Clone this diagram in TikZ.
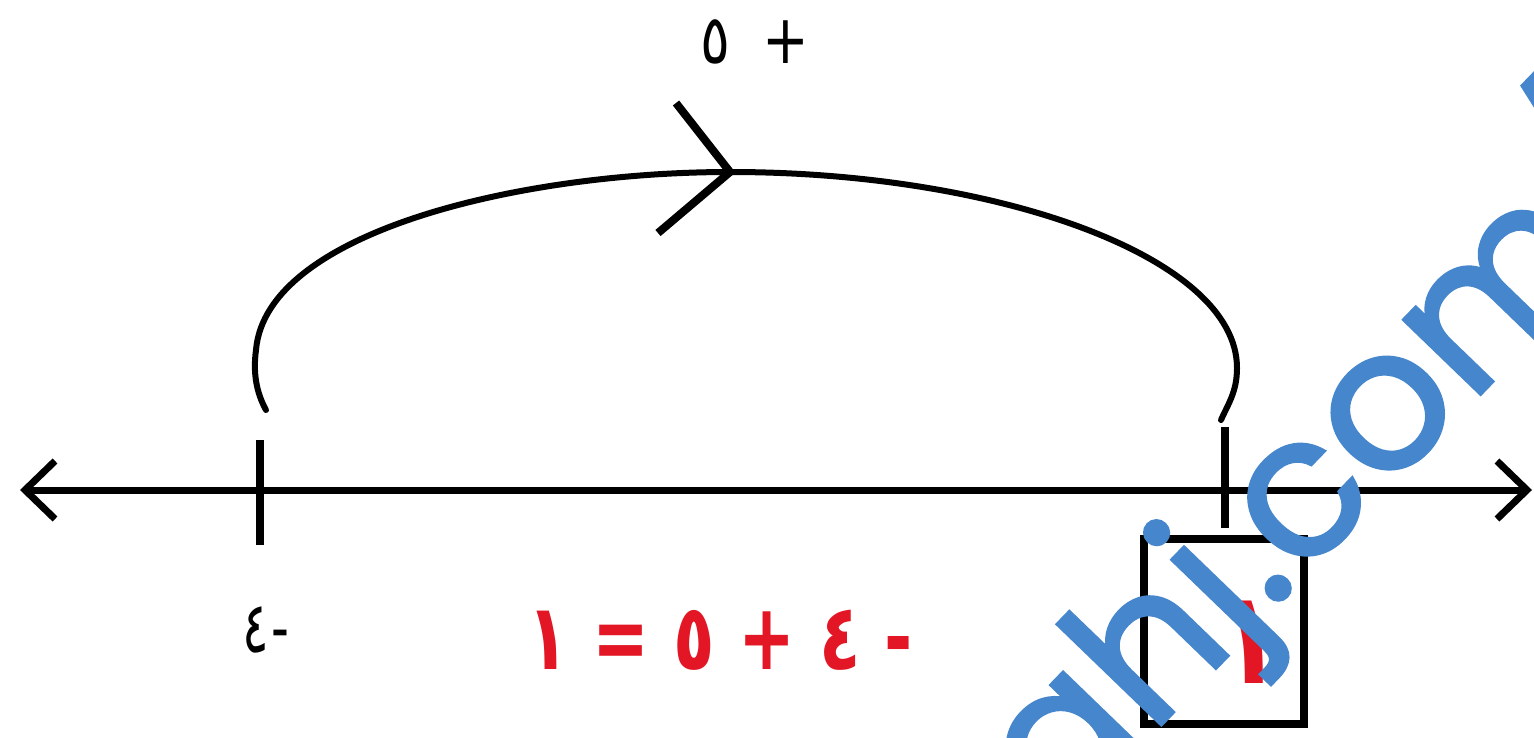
\documentclass[tikz,border=0pt]{standalone}
\usepackage{fontspec}
\usetikzlibrary{arrows.meta}
\TeXXeTstate=1
\newfontfamily\arabicfont[Script=Arabic]{DejaVu Sans}
\newfontfamily\wmfont[FakeBold=1.5]{Poppins}
\definecolor{eqred}{RGB}{226,22,36}
\definecolor{wmblue}{RGB}{70,134,204}
\tikzset{
  axisline/.style={line width=7pt, {Straight Barb[length=30pt,width=58pt,line width=7pt]}-{Straight Barb[length=30pt,width=58pt,line width=7pt]}},
  tickmark/.style={line width=8pt},
  jumparc/.style={line width=6pt, line cap=round},
  chevron/.style={line width=8pt, line join=miter},
  handlabel/.style={inner sep=0pt, font=\arabicfont\fontsize{62}{64}\selectfont},
  eqlabel/.style={inner sep=0pt, text=eqred, font=\arabicfont\bfseries\fontsize{92}{96}\selectfont},
  answerbox/.style={draw, line width=8pt, minimum width=160pt, minimum height=185pt, inner sep=0pt},
  watermark/.style={text=wmblue, font=\wmfont\fontsize{196}{196}\selectfont, inner sep=0pt}
}
\begin{document}
\begin{tikzpicture}[x=1pt,y=-1pt]
\useasboundingbox (0,0) rectangle (1534,738);
% number line
\coordinate (L) at (20,490);
\coordinate (R) at (1532,490);
\draw[axisline] (L) -- (R);
% ticks
\coordinate (t1top) at (260,440);
\coordinate (t1bot) at (260,545);
\coordinate (t2top) at (1225,427);
\coordinate (t2bot) at (1225,528);
\draw[tickmark] (t1top) -- (t1bot);
\draw[tickmark] (t2top) -- (t2bot);
% jump arc
\coordinate (a0) at (266,410);
\coordinate (a1) at (1221,420);
\coordinate (top) at (730,172);
\draw[jumparc] (a0) .. controls (256,392) and (253,372) .. (256,350)
  .. controls (266,232) and (520,172) .. (top)
  .. controls (1000,172) and (1237,258) .. (1237,368)
  .. controls (1237,392) and (1228,404) .. (a1);
% chevron on arc
\coordinate (ch1) at (676,103);
\coordinate (ch2) at (658,233);
\draw[chevron] (ch1) -- (top) -- (ch2);
% labels
\node[handlabel, xscale=0.9, yscale=1.1] (plus5) at (755,42) {\beginR +\kern36pt ٥\endR};
\node[handlabel, xscale=0.8, yscale=1.15] (minus4) at (266,630) {\beginR -\kern4pt ٤\endR};
\node[eqlabel, xscale=0.74] (eq) at (720,640) {\beginR - ٤ + ٥ = ١\endR};
% answer box
\node[answerbox] (box) at (1224,631.5) {};
\node[eqlabel, font=\arabicfont\bfseries\fontsize{130}{130}\selectfont, xscale=0.8] (ans) at (1250,642) {١};
% watermark
\begin{scope}
\clip (0,0) rectangle (1534,738);
\node[watermark, rotate=46, anchor=base] (wm) at (1367,512) {ahj.com/};
\end{scope}
\end{tikzpicture}
\end{document}
